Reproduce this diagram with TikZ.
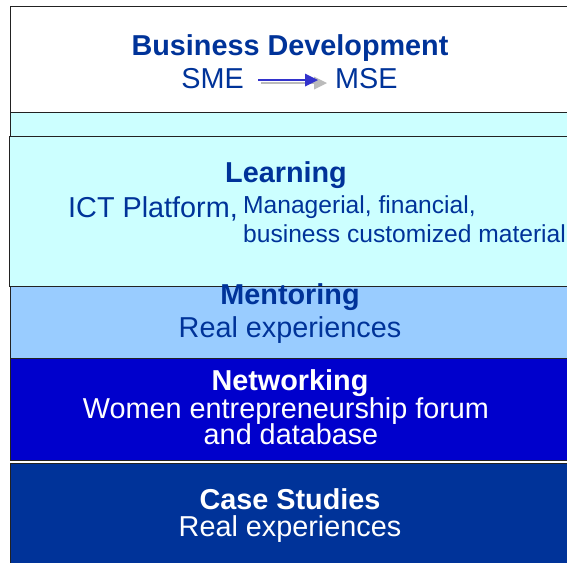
\documentclass[tikz,border=0pt]{standalone}
\usepackage{fontspec}
\setmainfont{Liberation Sans}
\usetikzlibrary{arrows.meta}

\definecolor{inkblue}{HTML}{003399}
\definecolor{paleCyan}{HTML}{CCFFFF}
\definecolor{skyBlue}{HTML}{99CCFF}
\definecolor{royal}{HTML}{0000CC}
\definecolor{navy}{HTML}{003399}
\definecolor{edge}{HTML}{222222}
\definecolor{arrowblue}{HTML}{3333CC}
\definecolor{arrowshade}{HTML}{BBBBBB}

\tikzset{
  layer/.style={draw=edge, line width=1pt},
  bigtxt/.style={inner sep=0pt, anchor=base, font=\fontsize{28.8}{31}\selectfont},
  headtxt/.style={bigtxt, font=\fontsize{28.8}{31}\selectfont\bfseries},
  smalltxt/.style={inner sep=0pt, anchor=base west, font=\fontsize{24.6}{27}\selectfont},
  flow/.style={line width=1.5pt, -{Triangle[length=13pt,width=12.6pt]}},
}

\begin{document}
\begin{tikzpicture}[x=1pt, y=-1pt]
  \useasboundingbox (0,0) rectangle (567,562);
  \clip (0,0) rectangle (567,562);

  % stacked layers, bottom of the stack drawn last
  \fill[white] (0,0) rectangle (567,562);
  \draw[layer, fill=white]     (10.7,6.7)   rectangle (600,112.7);
  \draw[layer, fill=paleCyan]  (10.7,112.7) rectangle (600,200);
  \draw[layer, fill=paleCyan]  (9.3,136)    rectangle (600,286);
  \draw[layer, fill=skyBlue]   (10.7,286)   rectangle (600,358);
  \draw[layer, fill=royal]     (10.7,358)   rectangle (600,460.7);
  \draw[layer, fill=navy]      (10.7,463.8) rectangle (600,620);

  % Business Development
  \node[headtxt, text=inkblue] (bd) at (290,55) {Business Development};
  \node[bigtxt, anchor=base east, text=inkblue] (sme) at (244,88) {SME};
  \node[bigtxt, anchor=base west, text=inkblue] (mse) at (335,88) {MSE};
  % drop shadow first, then the arrow itself
  \draw[flow, draw=arrowshade, fill=arrowshade, shorten <=17pt, shorten >=8pt]
    ([yshift=-5pt]sme.east) -- ([yshift=-5pt]mse.west);
  \draw[flow, draw=arrowblue, fill=arrowblue, shorten <=14pt, shorten >=17pt]
    ([yshift=-2pt]sme.east) -- ([yshift=-2pt]mse.west);

  % Learning
  \node[headtxt, text=inkblue] (learn) at (286,182) {Learning};
  \node[bigtxt, anchor=base west, text=inkblue] (ict) at (68,217) {ICT Platform,};
  \node[smalltxt, text=inkblue] (mgr) at (243,213) {Managerial, financial,};
  \node[smalltxt, text=inkblue] (biz) at (243,242) {business customized material};

  % Mentoring
  \node[headtxt, text=inkblue] (ment) at (290,304) {Mentoring};
  \node[bigtxt, text=inkblue] (mentsub) at (290,337) {Real experiences};

  % Networking
  \node[headtxt, text=white] (net) at (290,390) {Networking};
  \node[bigtxt, text=white] (netsub1) at (286,418) {Women entrepreneurship forum};
  \node[bigtxt, text=white] (netsub2) at (291,444) {and database};

  % Case Studies
  \node[headtxt, text=white] (cases) at (290,509) {Case Studies};
  \node[bigtxt, text=white] (casesub) at (290,536) {Real experiences};
\end{tikzpicture}
\end{document}
